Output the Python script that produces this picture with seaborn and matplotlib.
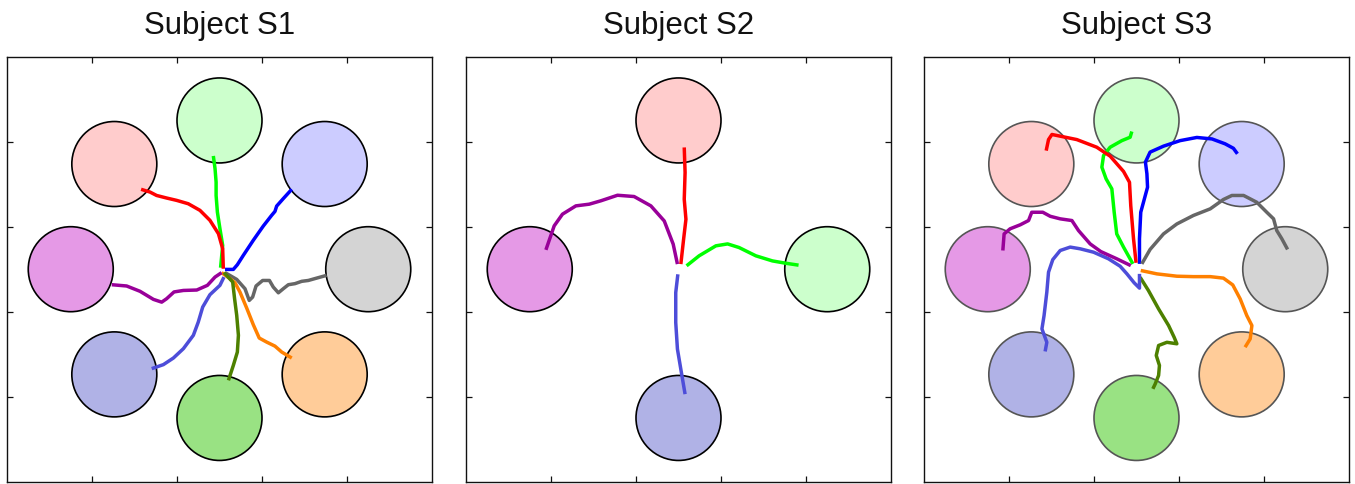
import numpy as np
import pandas as pd
import matplotlib
matplotlib.use("Agg")
import matplotlib.pyplot as plt
from matplotlib.patches import Circle
import seaborn as sns

# ---------------- data ----------------
titles = ["Subject S1", "Subject S2", "Subject S3"]
target_distance = 7.0
target_radius = 2.0
tick_values = [-6, -2, 2, 6]

# target angles (deg) and colours
angles8 = [90, 45, 0, -45, -90, -135, 180, 135]
fills8 = ["#ccffcc", "#ccccff", "#d4d4d4", "#ffcc99", "#99e283", "#b0b2e6", "#e599e6", "#ffcccc"]
lines8 = ["#00ff00", "#0000ff", "#666666", "#ff8000", "#4d8000", "#4d4dd9", "#990099", "#ff0000"]

angles4 = [90, 0, -90, 180]
fills4 = ["#ffcccc", "#ccffcc", "#b0b2e6", "#e599e6"]
lines4 = ["#ff0000", "#00ff00", "#4d4dd9", "#990099"]

# ---- Subject S1 trajectories (x, y) ----
s1_green_x = [0.05, 0.15, 0.02, -0.10, -0.16, -0.16, -0.21, -0.29]
s1_green_y = [0.07, 1.12, 1.91, 2.69, 3.47, 4.10, 4.73, 5.33]
s1_blue_x = [0.26, 0.65, 0.84, 1.12, 1.59, 2.06, 2.45, 2.61, 2.69, 3.00, 3.40]
s1_blue_y = [-0.01, -0.01, 0.21, 0.65, 1.36, 2.03, 2.53, 2.72, 2.97, 3.32, 3.76]
s1_gray_x = [0.26, 0.81, 1.20, 1.40, 1.56, 1.72, 2.03, 2.35, 2.53, 2.77, 3.00, 3.24, 3.55, 3.87, 4.18, 4.57, 5.04]
s1_gray_y = [-0.16, -0.48, -0.92, -1.47, -1.31, -0.79, -0.53, -0.53, -0.84, -1.11, -0.92, -0.73, -0.68, -0.57, -0.53, -0.42, -0.29]
s1_orange_x = [0.10, 0.46, 0.73, 0.96, 1.28, 1.59, 1.87, 2.22, 2.61, 2.93, 3.40]
s1_orange_y = [-0.16, -0.42, -0.64, -1.07, -1.83, -2.61, -3.24, -3.43, -3.62, -3.90, -4.18]
s1_olive_x = [0.21, 0.62, 0.71, 0.81, 0.89, 0.84, 0.65, 0.42]
s1_olive_y = [-0.16, -0.60, -1.39, -2.17, -3.11, -3.90, -4.53, -5.23]
s1_slate_x = [0.21, 0.02, -0.45, -0.79, -1.00, -1.23, -1.70, -2.17, -2.64, -3.19]
s1_slate_y = [-0.37, -0.76, -1.20, -1.78, -2.49, -3.11, -3.74, -4.18, -4.49, -4.68]
s1_purple_x = [0.10, -0.21, -0.57, -1.07, -1.70, -2.14, -2.49, -2.72, -3.11, -3.74, -4.37, -5.07]
s1_purple_y = [-0.16, -0.37, -0.76, -0.98, -1.00, -1.07, -1.39, -1.55, -1.42, -1.04, -0.79, -0.73]
s1_red_x = [0.18, 0.15, -0.05, -0.45, -0.92, -1.47, -2.02, -2.49, -2.96, -3.27, -3.69]
s1_red_y = [0.02, 0.96, 1.67, 2.30, 2.77, 3.08, 3.24, 3.35, 3.47, 3.63, 3.76]

# ---- Subject S2 trajectories ----
s2_red_x = [0.11, 0.24, 0.35, 0.27, 0.31, 0.27]
s2_red_y = [0.24, 1.41, 2.35, 3.29, 4.55, 5.73]
s2_green_x = [0.38, 0.97, 1.76, 2.31, 2.85, 3.64, 4.42, 5.05, 5.65]
s2_green_y = [0.16, 0.63, 1.10, 1.19, 1.02, 0.63, 0.39, 0.28, 0.19]
s2_slate_x = [-0.03, -0.13, -0.13, -0.05, 0.11, 0.31]
s2_slate_y = [-0.24, -1.10, -2.51, -3.76, -4.71, -5.88]
s2_purple_x = [-0.05, -0.25, -0.67, -1.30, -2.09, -2.87, -3.65, -4.20, -4.83, -5.46, -5.85, -6.24]
s2_purple_y = [0.24, 1.18, 2.27, 2.98, 3.42, 3.48, 3.22, 3.06, 2.98, 2.59, 2.04, 0.91]

# ---- Subject S3 trajectories ----
s3_green_x = [-0.17, -0.61, -0.93, -1.05, -1.16, -1.43, -1.63, -1.55, -1.24, -0.69, -0.30, -0.22]
s3_green_y = [0.25, 1.04, 1.66, 2.68, 3.78, 4.25, 4.80, 5.35, 5.74, 6.05, 6.21, 6.48]
s3_blue_x = [0.14, 0.14, 0.20, 0.52, 0.49, 0.42, 0.64, 1.27, 2.05, 2.84, 3.55, 4.17, 4.56, 4.75]
s3_blue_y = [0.25, 1.43, 2.68, 3.86, 4.49, 5.04, 5.51, 5.79, 6.05, 6.20, 6.13, 5.90, 5.69, 5.43]
s3_gray_x = [0.25, 0.64, 1.27, 1.90, 2.68, 3.47, 4.09, 4.49, 5.04, 5.66, 6.13, 6.45, 6.60, 6.84, 7.11]
s3_gray_y = [0.25, 0.93, 1.66, 2.13, 2.53, 2.84, 3.28, 3.47, 3.47, 3.15, 2.68, 2.37, 1.82, 1.43, 0.93]
s3_orange_x = [0.20, 0.96, 1.90, 2.68, 3.47, 4.09, 4.53, 4.88, 5.19, 5.43, 5.35, 5.11]
s3_orange_y = [-0.06, -0.22, -0.33, -0.35, -0.35, -0.42, -0.74, -1.40, -2.18, -2.65, -3.28, -3.67]
s3_olive_x = [0.17, 0.56, 1.04, 1.51, 1.77, 1.90, 1.43, 1.04, 0.93, 1.08, 1.04, 0.88, 0.77]
s3_olive_y = [-0.38, -1.00, -1.87, -2.65, -3.20, -3.51, -3.44, -3.59, -4.06, -4.53, -5.00, -5.40, -5.63]
s3_slate_x = [0.14, 0.14, -0.11, -0.45, -0.77, -1.32, -2.02, -2.65, -3.12, -3.59, -3.94, -4.14, -4.22, -4.35, -4.45, -4.22, -4.30]
s3_slate_y = [-0.22, -0.89, -0.64, -0.22, 0.14, 0.49, 0.80, 0.96, 1.04, 0.88, 0.45, -0.14, -1.08, -2.18, -2.81, -3.44, -3.87]
s3_purple_x = [-0.27, -0.93, -1.68, -2.18, -2.73, -3.04, -3.59, -4.06, -4.41, -4.93, -5.08, -5.47, -5.95, -6.23, -6.29]
s3_purple_y = [0.17, 0.49, 0.83, 1.19, 1.82, 2.29, 2.37, 2.49, 2.68, 2.68, 2.29, 2.09, 1.90, 1.66, 0.88]
s3_red_x = [-0.02, -0.14, -0.27, -0.33, -0.61, -1.24, -1.87, -2.81, -3.59, -3.98, -4.14, -4.25]
s3_red_y = [0.30, 1.43, 2.99, 4.09, 4.60, 5.32, 5.74, 6.10, 6.26, 6.34, 6.10, 5.58]

panels = [
    dict(angles=angles8, fills=fills8, lines=lines8, edge="#000000",
         trajs=[(s1_green_x, s1_green_y), (s1_blue_x, s1_blue_y), (s1_gray_x, s1_gray_y),
                (s1_orange_x, s1_orange_y), (s1_olive_x, s1_olive_y), (s1_slate_x, s1_slate_y),
                (s1_purple_x, s1_purple_y), (s1_red_x, s1_red_y)]),
    dict(angles=angles4, fills=fills4, lines=lines4, edge="#000000",
         trajs=[(s2_red_x, s2_red_y), (s2_green_x, s2_green_y),
                (s2_slate_x, s2_slate_y), (s2_purple_x, s2_purple_y)]),
    dict(angles=angles8, fills=fills8, lines=lines8, edge="#555555",
         trajs=[(s3_green_x, s3_green_y), (s3_blue_x, s3_blue_y), (s3_gray_x, s3_gray_y),
                (s3_orange_x, s3_orange_y), (s3_olive_x, s3_olive_y), (s3_slate_x, s3_slate_y),
                (s3_purple_x, s3_purple_y), (s3_red_x, s3_red_y)]),
]

# ---------------- plotting ----------------
sns.set_theme(style="white")
plt.rcParams["font.family"] = ["Liberation Sans", "DejaVu Sans"]

fig = plt.figure(figsize=(13.55, 4.85), dpi=100)
lefts_px = [7, 466, 924]
w_px = 425
for i, (title, p) in enumerate(zip(titles, panels)):
    ax = fig.add_axes([lefts_px[i] / 1355, 2.3 / 485, w_px / 1355, w_px / 485])
    for ang, fc in zip(p["angles"], p["fills"]):
        cx = target_distance * np.cos(np.radians(ang))
        cy = target_distance * np.sin(np.radians(ang))
        ax.add_patch(Circle((cx, cy), target_radius, facecolor=fc, edgecolor=p["edge"],
                            linewidth=1.2, zorder=1))
    for (tx, ty), lc in zip(p["trajs"], p["lines"]):
        df = pd.DataFrame({"x": tx, "y": ty})
        sns.lineplot(data=df, x="x", y="y", sort=False, estimator=None, color=lc,
                     linewidth=2.5, ax=ax, zorder=3, solid_capstyle="butt",
                     solid_joinstyle="round")
    ax.set_xlim(-10, 10)
    ax.set_ylim(-10, 10)
    ax.set_aspect("equal")
    ax.set_xticks(tick_values)
    ax.set_yticks(tick_values)
    ax.set_xticklabels([])
    ax.set_yticklabels([])
    ax.set_xlabel("")
    ax.set_ylabel("")
    ax.tick_params(direction="in", length=4, width=0.9, color="#111111",
                   top=True, right=True, bottom=True, left=True)
    for s in ax.spines.values():
        s.set_color("#111111")
        s.set_linewidth(1.0)
    ax.set_title(title, fontsize=22.5, pad=17, color="#111111")

fig.savefig("out.png", dpi=100)
